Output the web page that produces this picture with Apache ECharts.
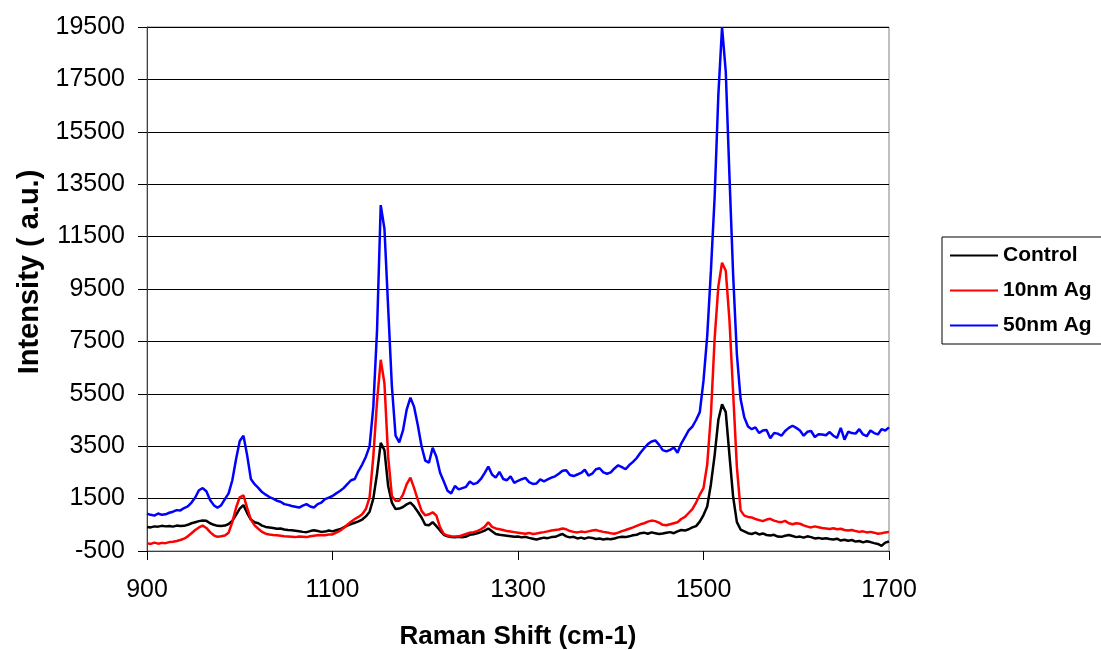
<!DOCTYPE html>
<html>
<head>
<meta charset="utf-8">
<title>Raman spectra</title>
<script src="https://cdn.jsdelivr.net/npm/echarts@6/dist/echarts.min.js"></script>
<style>
  html, body { margin: 0; padding: 0; background: #ffffff; }
  #chart { width: 1101px; height: 650px; }
</style>
</head>
<body>
<div id="chart"></div>
<script>
// Raman shift sampling grid (cm-1), 4 cm-1 steps from 900 to 1700
const ramanShift = [];
for (let x = 900; x <= 1700; x += 4) ramanShift.push(x);

const seriesNames = ['Control', '10nm Ag', '50nm Ag'];
const seriesColors = ['#000000', '#ff0000', '#0000ff'];

// Intensity (a.u.), one value per ramanShift entry
const control = [
  420, 400, 440, 430, 460,   440, 450, 430, 470, 450,
  460, 500, 560, 600, 640,   660, 650, 560, 500, 460,
  450, 470, 530, 650, 880,   1120, 1250, 950, 700, 600,
  560, 470, 420, 400, 380,   350, 360, 320, 300, 290,
  270, 250, 230, 220, 260,   290, 260, 230, 240, 280,
  250, 290, 330, 400, 470,   530, 580, 630, 700, 820,
  1000, 1500, 2450, 3630, 3350,   1980, 1350, 1100, 1120, 1180,
  1280, 1350, 1200, 1000, 780,   500, 480, 600, 450, 280,
  120, 60, 30, 20, 40,   20, 50, 120, 140, 180,
  220, 280, 360, 250, 150,   120, 100, 80, 60, 40,
  50, 20, 40, 0, -30,   -60, -20, 10, -10, 30,
  40, 100, 150, 60, 20,   40, -20, 10, -30, 20,
  0, -40, -20, -60, -30,   -50, -20, 20, 40, 30,
  60, 100, 120, 180, 200,   160, 210, 180, 150, 170,
  200, 220, 180, 250, 300,   280, 330, 400, 450, 620,
  870, 1200, 2050, 3150, 4500,   5100, 4800, 3150, 1550, 600,
  320, 250, 180, 150, 200,   130, 170, 110, 90, 120,
  50, 40, 80, 110, 70,   30, 50, 10, 60, 30,
  -20, 0, -30, -10, -40,   -60, -30, -100, -70, -110,
  -80, -140, -120, -170, -130,   -160, -200, -230, -300, -180,
  -140
];

const ag10 = [
  -200, -230, -180, -220, -190,   -200, -160, -150, -120, -80,
  -30, 60, 180, 300, 400,   470, 380, 220, 100, 40,
  60, 90, 200, 600, 1150,   1550, 1620, 1150, 700, 480,
  350, 230, 160, 130, 110,   100, 80, 60, 50, 40,
  30, 50, 40, 30, 60,   80, 100, 110, 100, 130,
  130, 200, 270, 380, 500,   620, 720, 800, 900, 1100,
  1550, 3100, 5200, 6800, 5900,   3100, 1600, 1420, 1420, 1650,
  2050, 2300, 1900, 1450, 1030,   860, 900, 980, 850, 400,
  150, 90, 60, 50, 60,   100, 150, 200, 220, 260,
  330, 420, 600, 420, 360,   330, 300, 260, 240, 220,
  200, 180, 160, 190, 150,   170, 200, 220, 250, 280,
  300, 320, 360, 330, 260,   230, 210, 240, 220, 250,
  280, 300, 260, 230, 210,   180, 160, 200, 260, 300,
  350, 400, 460, 520, 560,   620, 660, 640, 580, 500,
  480, 520, 560, 600, 720,   800, 950, 1100, 1350, 1650,
  1900, 2800, 4700, 7600, 9600,   10500, 10200, 8300, 5500, 2700,
  1050, 850, 800, 780, 720,   680, 640, 700, 730, 660,
  620, 600, 650, 560, 520,   560, 540, 480, 430, 400,
  440, 410, 380, 360, 340,   370, 330, 350, 300, 280,
  300, 260, 230, 250, 210,   230, 200, 160, 180, 210,
  230
];

const ag50 = [
  920, 880, 850, 930, 880,   900, 960, 1000, 1060, 1050,
  1140, 1200, 1350, 1540, 1820,   1900, 1780, 1450, 1250, 1150,
  1250, 1480, 1700, 2200, 3000,   3700, 3900, 3150, 2250, 2050,
  1910, 1750, 1650, 1560, 1500,   1420, 1380, 1290, 1260, 1220,
  1190, 1160, 1230, 1290, 1200,   1160, 1290, 1350, 1480, 1540,
  1600, 1700, 1790, 1900, 2050,   2200, 2250, 2550, 2800, 3100,
  3500, 5000, 7900, 12700, 11800,   8800, 5800, 3900, 3650, 4100,
  4900, 5350, 5000, 4300, 3500,   2950, 2870, 3440, 3100, 2490,
  2150, 1800, 1700, 1980, 1850,   1900, 1950, 2150, 2050, 2100,
  2250, 2470, 2720, 2420, 2300,   2520, 2250, 2200, 2350, 2100,
  2180, 2240, 2290, 2130, 2060,   2080, 2230, 2160, 2230, 2300,
  2350, 2450, 2560, 2580, 2400,   2360, 2420, 2480, 2600, 2380,
  2450, 2620, 2660, 2500, 2450,   2500, 2650, 2770, 2700, 2620,
  2780, 2900, 3050, 3250, 3420,   3580, 3680, 3720, 3560, 3350,
  3300, 3360, 3450, 3250, 3600,   3850, 4100, 4250, 4500, 4800,
  6000, 7700, 10200, 13000, 16900,   19500, 17800, 13800, 10000, 7000,
  5300, 4600, 4250, 4150, 4220,   4000, 4100, 4120, 3800, 4000,
  3980, 3900, 4080, 4200, 4280,   4200, 4100, 3900, 4050, 4080,
  3850, 3960, 3950, 3920, 4040,   3900, 3820, 4200, 3750, 4050,
  4000, 3980, 4150, 3950, 3880,   4100, 4000, 3950, 4150, 4100,
  4220
];

const seriesValues = [control, ag10, ag50];

// Axis ranges and steps
const xRange = { min: 900, max: 1700, step: 200 };
const yRange = { min: -500, max: 19500, step: 2000 };

const font = '"Liberation Sans", Arial, Helvetica, sans-serif';
const plainNumber = v => String(v);

const chart = echarts.init(document.getElementById('chart'), null, { renderer: 'canvas' });

const toPairs = values => ramanShift.map((x, i) => [x, values[i]]);

chart.setOption({
  animation: false,
  backgroundColor: '#ffffff',
  grid: {
    left: 147, top: 27, width: 742, height: 524,
    outerBoundsMode: 'none',
    containLabel: false,
    show: true, borderColor: '#808080', borderWidth: 1,
    backgroundColor: 'transparent'
  },
  legend: {
    data: seriesNames,
    orient: 'vertical',
    left: 942, top: 237,
    padding: [8, 20, 8, 8],
    itemWidth: 48, itemHeight: 2, itemGap: 14,
    icon: 'rect',
    borderColor: '#000000', borderWidth: 1,
    backgroundColor: '#ffffff',
    textStyle: { fontFamily: font, fontWeight: 'bold', fontSize: 21, lineHeight: 20, color: '#000000' }
  },
  xAxis: {
    type: 'value',
    min: xRange.min, max: xRange.max, interval: xRange.step,
    name: 'Raman Shift (cm-1)',
    nameLocation: 'middle', nameGap: 73,
    nameTextStyle: { fontFamily: font, fontWeight: 'bold', fontSize: 26, color: '#000000' },
    axisLine: { show: true, onZero: false, lineStyle: { color: '#404040', width: 1 } },
    axisTick: { show: true, inside: false, length: 9, lineStyle: { color: '#000000', width: 1 } },
    axisLabel: { margin: 27, fontFamily: font, fontSize: 25, color: '#000000', formatter: plainNumber },
    splitLine: { show: false }
  },
  yAxis: {
    type: 'value',
    min: yRange.min, max: yRange.max, interval: yRange.step,
    name: 'Intensity ( a.u.)',
    nameLocation: 'middle', nameGap: 102, nameRotate: 90,
    nameTextStyle: { fontFamily: font, fontWeight: 'bold', fontSize: 29, color: '#000000', padding: [0, 0, 0, 34] },
    axisLine: { show: true, onZero: false, lineStyle: { color: '#404040', width: 1 } },
    axisTick: { show: true, inside: false, length: 9, lineStyle: { color: '#000000', width: 1 } },
    axisLabel: { margin: 22, fontFamily: font, fontSize: 25, color: '#000000', formatter: plainNumber },
    splitLine: { show: true, lineStyle: { color: '#000000', width: 1 } }
  },
  series: seriesNames.map((name, k) => ({
    name: name,
    type: 'line',
    data: toPairs(seriesValues[k]),
    showSymbol: false,
    symbol: 'none',
    color: seriesColors[k],
    lineStyle: { color: seriesColors[k], width: 2.5 },
    itemStyle: { color: seriesColors[k] },
    emphasis: { disabled: true },
    z: 2 + k
  }))
});
</script>
</body>
</html>
